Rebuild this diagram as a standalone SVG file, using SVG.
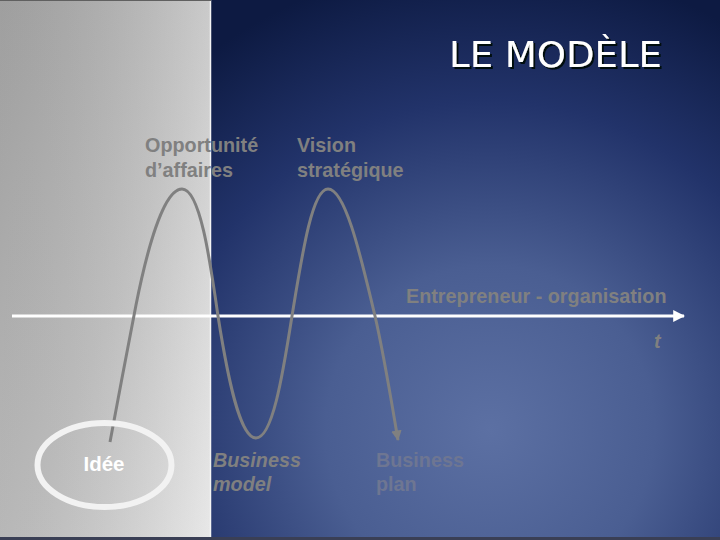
<svg xmlns="http://www.w3.org/2000/svg" width="720" height="540" viewBox="0 0 720 540">
  <defs>
    <radialGradient id="bg" cx="490" cy="430" r="470" gradientUnits="userSpaceOnUse">
      <stop offset="0" stop-color="#5c70a3"/>
      <stop offset="0.35" stop-color="#4a5e92"/>
      <stop offset="0.7" stop-color="#22336a"/>
      <stop offset="1" stop-color="#0d1a42"/>
    </radialGradient>
    <linearGradient id="panel" x1="0" y1="0" x2="1" y2="1">
      <stop offset="0" stop-color="#a7a7a7"/>
      <stop offset="0.55" stop-color="#c4c4c4"/>
      <stop offset="1" stop-color="#e4e4e4"/>
    </linearGradient>
    <linearGradient id="panelH" x1="0" y1="0" x2="1" y2="0">
      <stop offset="0" stop-color="#000" stop-opacity="0.05"/>
      <stop offset="1" stop-color="#fff" stop-opacity="0.15"/>
    </linearGradient>
    <filter id="sh" x="-10%" y="-30%" width="120%" height="160%">
      <feDropShadow dx="2" dy="2" stdDeviation="0.3" flood-color="#05080f" flood-opacity="1"/>
    </filter>
    <marker id="arrW" viewBox="0 0 10 10" refX="9" refY="5" markerWidth="4" markerHeight="4" orient="auto">
      <path d="M0,0 L10,5 L0,10 z" fill="#ffffff"/>
    </marker>
    <marker id="arrG" viewBox="0 0 10 10" refX="9" refY="5" markerWidth="3.5" markerHeight="3.5" orient="auto">
      <path d="M0,0 L10,5 L0,10 z" fill="#808080"/>
    </marker>
  </defs>
  <style>
    .lbl { font-family: "Liberation Sans", Arial, sans-serif; font-size: 19.8px; font-weight: bold; fill: #808080; }
    .title { font-family: "DejaVu Sans", "Liberation Sans", sans-serif; font-size: 36px; fill: #ffffff; }
  </style>

  <rect x="0" y="0" width="720" height="540" fill="url(#bg)"/>
  <rect x="0" y="0" width="211" height="540" fill="url(#panel)"/>
  <rect x="0" y="0" width="211" height="540" fill="url(#panelH)"/>
  <line x1="210.5" y1="0" x2="210.5" y2="540" stroke="#f4f4f4" stroke-width="1.5"/>
  <rect x="0" y="537" width="720" height="3" fill="#3a3f55"/>
  <line x1="0" y1="0.5" x2="211" y2="0.5" stroke="#606060" stroke-width="1"/>

  <g id="title">
    <text class="title" x="449" y="67" textLength="213" lengthAdjust="spacingAndGlyphs" filter="url(#sh)">LE MODÈLE</text>
  </g>

  <g id="connectors">
    <line x1="12" y1="316" x2="684" y2="316" stroke="#ffffff" stroke-width="3" marker-end="url(#arrW)"/>
    <path d="M110,442 C118,400 128,345 136,305 C150,235 166,189 182,189 C200,189 210,260 218,316 C228,380 240,438 256,438 C272,438 282,380 292,316 C302,255 312,189 328,189 C346,189 362,262 375,316 C384,355 392,405 398,440" fill="none" stroke="#808080" stroke-width="3" marker-end="url(#arrG)"/>
  </g>

  <g id="idee">
    <ellipse cx="104.5" cy="465" rx="67" ry="42" fill="none" stroke="#f2f2f2" stroke-width="6"/>
    <text x="104" y="471" text-anchor="middle" font-family="'Liberation Sans', Arial, sans-serif" font-size="20.5" font-weight="bold" fill="#ffffff">Idée</text>
  </g>

  <g id="opportunite">
    <text class="lbl" x="145" y="152">Opportunité</text>
    <text class="lbl" x="145" y="177">d’affaires</text>
  </g>
  <g id="vision">
    <text class="lbl" x="297" y="152">Vision</text>
    <text class="lbl" x="297" y="177">stratégique</text>
  </g>
  <g id="entrepreneur">
    <text class="lbl" x="406" y="303">Entrepreneur - organisation</text>
  </g>
  <g id="t">
    <text class="lbl" x="654" y="348" font-style="italic">t</text>
  </g>
  <g id="business-model">
    <text class="lbl" x="213" y="467" font-style="italic">Business</text>
    <text class="lbl" x="213" y="491" font-style="italic">model</text>
  </g>
  <g id="business-plan">
    <text class="lbl" x="376" y="467" style="fill:#6e7692">Business</text>
    <text class="lbl" x="376" y="491" style="fill:#6e7692">plan</text>
  </g>
</svg>
